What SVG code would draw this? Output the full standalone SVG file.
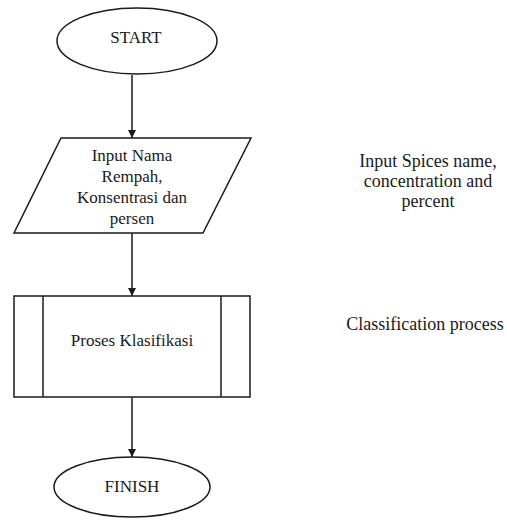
<svg xmlns="http://www.w3.org/2000/svg" width="507" height="522" viewBox="0 0 507 522">
<defs>
<style>
.shape{fill:#fff;stroke:#1a1a1a;stroke-width:1.5}
text{font-family:'Liberation Serif','Times New Roman',serif;font-size:17px;fill:#1a1a1a;text-anchor:middle}
.note{font-size:18px}
.c{stroke:#1a1a1a;stroke-width:1.5;fill:none}
</style>
<marker id="ah" viewBox="0 0 10 10" refX="10" refY="5" markerWidth="8" markerHeight="8" markerUnits="userSpaceOnUse" orient="auto">
<path d="M0,0 L10,5 L0,10 z" fill="#1a1a1a"/>
</marker>
</defs>
<rect width="507" height="522" fill="#fff"/>
<g id="connectors">
<line class="c" x1="132" y1="75" x2="132" y2="138" marker-end="url(#ah)"/>
<line class="c" x1="132" y1="233" x2="132" y2="296" marker-end="url(#ah)"/>
<line class="c" x1="132" y1="397" x2="132" y2="457" marker-end="url(#ah)"/>
</g>
<g id="start">
<ellipse class="shape" cx="137" cy="41" rx="80" ry="33"/>
<text x="136" y="43">START</text>
</g>
<g id="input">
<polygon class="shape" points="61,138 251,138 203,233 14,233"/>
<text x="132" y="161">Input Nama</text>
<text x="132" y="182">Rempah,</text>
<text x="132" y="203">Konsentrasi dan</text>
<text x="132" y="224">persen</text>
</g>
<g id="process">
<rect class="shape" x="14" y="296" width="236" height="101"/>
<line class="c" x1="43" y1="296" x2="43" y2="397"/>
<line class="c" x1="221" y1="296" x2="221" y2="397"/>
<text x="132" y="346">Proses Klasifikasi</text>
</g>
<g id="finish">
<ellipse class="shape" cx="132" cy="487" rx="78" ry="30"/>
<text x="132" y="492">FINISH</text>
</g>
<g id="note-input">
<text class="note" x="428" y="167">Input Spices name,</text>
<text class="note" x="428" y="187">concentration and</text>
<text class="note" x="428" y="207">percent</text>
</g>
<g id="note-process">
<text class="note" x="425" y="330">Classification process</text>
</g>
</svg>
